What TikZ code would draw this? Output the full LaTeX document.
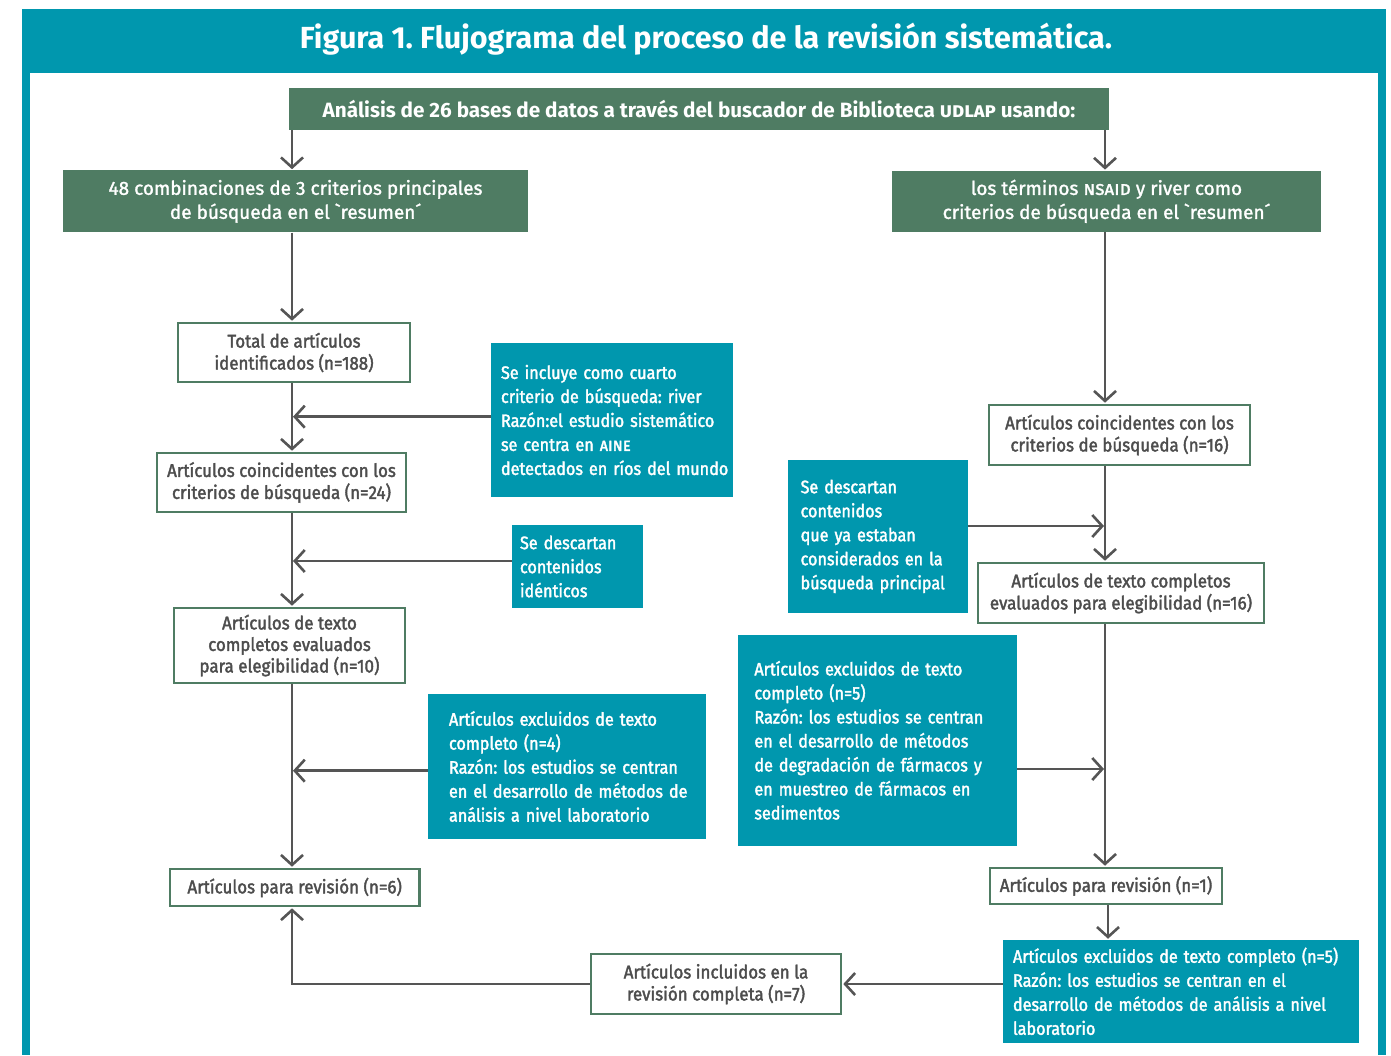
\documentclass[tikz,border=0pt]{standalone}
\usepackage{fontspec}
\setmainfont{Fira Sans}
\newfontfamily\bodyfont{Fira Sans}[FakeStretch=0.9,FakeBold=2]
\newfontfamily\grayfont{Fira Sans}[FakeStretch=0.92,FakeBold=2]
\newfontfamily\greenfont{Fira Sans}[FakeBold=1.5]
\usetikzlibrary{arrows.meta}
\definecolor{cteal}{HTML}{0097AE}
\definecolor{cgreen}{HTML}{4F7C63}
\definecolor{cgray}{HTML}{4D4D4D}
\definecolor{cline}{HTML}{555555}
\tikzset{
  greenbox/.style={fill=cgreen, text=white, inner sep=0pt, align=center,
    font=\greenfont\frenchspacing\fontsize{19}{24}\selectfont},
  graybox/.style={draw=cgreen, line width=2.6pt, fill=white, text=cgray, inner sep=0pt,
    align=center, font=\grayfont\frenchspacing\fontsize{18.4}{22}\selectfont},
  tealbox/.style n args={3}{fill=cteal, text=white, inner sep=0pt, align=left,
    text width=#1, minimum width=#1, minimum height=#2,
    execute at begin node={\leftskip=#3\relax},
    font=\bodyfont\frenchspacing\fontsize{18}{24}\selectfont},
  arr/.style={draw=cline, line width=2.6pt,
    -{Straight Barb[length=10pt,width=22pt]}, shorten >=1pt}
}
\begin{document}
\begin{tikzpicture}[x=1pt,y=-1pt]
\useasboundingbox (0,0) rectangle (1391,1055);
\fill[cteal] (22,9) rectangle (1386,1055);
\fill[white] (30,73) rectangle (1378,1055);
\node[text=white, font=\bfseries\frenchspacing\fontsize{30.5}{36}\selectfont] (title) at (706,39)
  {Figura 1. Flujograma del proceso de la revisión sistemática.};
\coordinate (L) at (292,0);
\coordinate (R) at (1105,0);
% top
\node[greenbox, font=\bfseries\frenchspacing\fontsize{20.7}{24}\selectfont, minimum width=820pt, minimum height=42pt] (top) at (699,109)
  {Análisis de 26 bases de datos a través del buscador de Biblioteca \textsc{udlap} usando:};
\node[greenbox, minimum width=465pt, minimum height=62pt] (g1) at (295.5,201.4)
  {48 combinaciones de 3 criterios principales\\de búsqueda en el ˋresumen´};
\node[greenbox, minimum width=429pt, minimum height=61pt] (g2) at (1106.5,201.3)
  {los términos \textsc{nsaid} y river como\\criterios de búsqueda en el ˋresumen´};
% left column
\node[graybox, minimum width=232pt, minimum height=59pt] (b1) at (294,352.5)
  {Total de artículos\\identificados (n=188)};
\node[graybox, minimum width=249pt, minimum height=59pt] (b2) at (281.5,482.5)
  {Artículos coincidentes con los\\criterios de búsqueda (n=24)};
\node[graybox, minimum width=231pt, minimum height=75pt, font=\grayfont\frenchspacing\fontsize{18.4}{21.5}\selectfont] (b3) at (289.5,645.5)
  {Artículos de texto\\completos evaluados\\para elegibilidad (n=10)};
\node[graybox, minimum width=249.5pt, minimum height=37pt] (b4) at (294.7,887.5)
  {Artículos para revisión (n=6)};
\node[graybox, minimum width=250pt, minimum height=60pt] (b7) at (716,984)
  {Artículos incluidos en la\\revisión completa (n=7)};
% right column
\node[graybox, minimum width=261pt, minimum height=60pt] (r1) at (1119.5,435)
  {Artículos coincidentes con los\\criterios de búsqueda (n=16)};
\node[graybox, minimum width=286pt, minimum height=60pt] (r2) at (1121,593)
  {Artículos de texto completos\\evaluados para elegibilidad (n=16)};
\node[graybox, minimum width=232pt, minimum height=36pt] (r3) at (1106,886)
  {Artículos para revisión (n=1)};
% teal boxes
\node[tealbox={242pt}{154pt}{10pt}] (t1) at (612,420)
  {Se incluye como cuarto\\criterio de búsqueda: river\\Razón:el estudio sistemático\\se centra en \textsc{aine}\\detectados en ríos del mundo};
\node[tealbox={131pt}{83pt}{8pt}] (t2) at (577.5,566.5)
  {Se descartan\\contenidos\\idénticos};
\node[tealbox={180.4pt}{152.7pt}{13pt}] (t3) at (877.8,536.4)
  {Se descartan\\contenidos\\que ya estaban\\considerados en la\\búsqueda principal};
\node[tealbox={277.5pt}{145pt}{21pt}] (t4) at (566.75,766.5)
  {Artículos excluidos de texto\\completo (n=4)\\Razón: los estudios se centran\\en el desarrollo de métodos de\\análisis a nivel laboratorio};
\node[tealbox={278.6pt}{210.7pt}{16pt}] (t5) at (877.7,740.3)
  {Artículos excluidos de texto\\completo (n=5)\\Razón: los estudios se centran\\en el desarrollo de métodos\\de degradación de fármacos y\\en muestreo de fármacos en\\sedimentos};
\node[tealbox={356.4pt}{102.7pt}{10pt}] (t6) at (1181.2,991.3)
  {Artículos excluidos de texto completo (n=5)\\Razón: los estudios se centran en el\\desarrollo de métodos de análisis a nivel\\laboratorio};
% anchor points for side arrows
\coordinate (t1a) at ([yshift=3.3pt]t1.west);
\coordinate (t2a) at ([yshift=5.5pt]t2.west);
\coordinate (t3a) at ([yshift=10.4pt]t3.east);
\coordinate (t4a) at ([yshift=-4.2pt]t4.west);
\coordinate (t5a) at ([yshift=-28.7pt]t5.east);
% connectors
\draw[arr] (top.south -| L) -- (g1.north -| L);
\draw[arr] (top.south -| R) -- (g2.north -| R);
\draw[arr] (g1.south -| L) -- (b1.north -| L);
\draw[arr] (b1.south -| L) -- (b2.north -| L);
\draw[arr] (b2.south -| L) -- (b3.north -| L);
\draw[arr] (b3.south -| L) -- (b4.north -| L);
\draw[arr] (t1a) -- (t1a -| L);
\draw[arr] (t2a) -- (t2a -| L);
\draw[arr] (t4a) -- (t4a -| L);
\draw[arr] (g2.south -| R) -- (r1.north -| R);
\draw[arr] (r1.south -| R) -- (r2.north -| R);
\draw[arr] (r2.south -| R) -- (r3.north -| R);
\draw[arr] (t3a) -- (t3a -| R);
\draw[arr] (t5a) -- (t5a -| R);
\draw[arr] ([xshift=2pt]r3.south) -- ([xshift=2pt]r3.south |- t6.north);
\draw[arr] (t6.west |- b7.east) -- (b7.east);
\draw[arr] (b7.west) -- (b7.west -| L) -- (b4.south -| L);
\end{tikzpicture}
\end{document}
